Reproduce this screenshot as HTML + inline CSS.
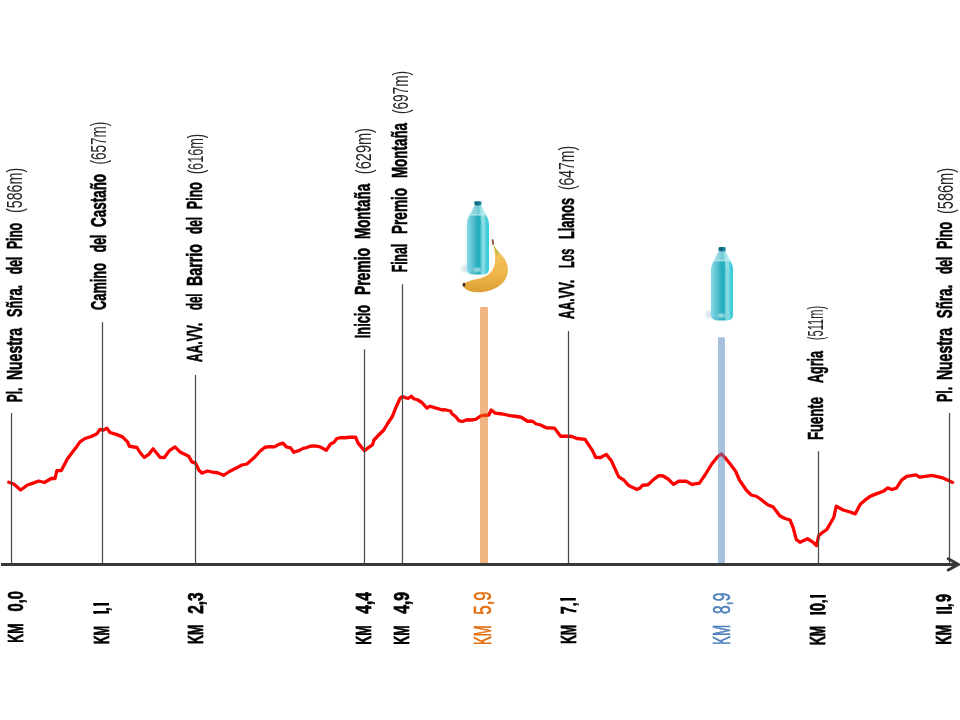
<!DOCTYPE html>
<html><head><meta charset="utf-8"><title>Perfil</title>
<style>
html,body{margin:0;padding:0;background:#fff;width:960px;height:720px;overflow:hidden;}
svg{display:block;will-change:transform;}
text{font-family:"Liberation Sans",sans-serif;white-space:pre;}
.b{font-weight:700;font-size:22px;fill:#000;stroke:#000;stroke-width:0.6px;}
.l{font-weight:400;font-size:21.5px;fill:#262626;}
.k{font-weight:700;font-size:22px;stroke-width:0.7px;}
.ko{font-weight:400;font-size:23px;stroke-width:0.6px;}
.kc{font-weight:700;font-size:17px;stroke-width:0.5px;}
</style></head>
<body>
<svg width="960" height="720" viewBox="0 0 960 720">
<defs>
<linearGradient id="bg" x1="0" x2="1" y1="0" y2="0">
 <stop offset="0" stop-color="#80d8e8"/>
 <stop offset="0.08" stop-color="#7ad4e2"/>
 <stop offset="0.3" stop-color="#55bdcd"/>
 <stop offset="0.5" stop-color="#22adbd"/>
 <stop offset="0.6" stop-color="#2ab3c2"/>
 <stop offset="0.68" stop-color="#7fd7e0"/>
 <stop offset="0.78" stop-color="#8adce4"/>
 <stop offset="0.88" stop-color="#45ccd9"/>
 <stop offset="1" stop-color="#38cddb"/>
</linearGradient>
<linearGradient id="cap" x1="0" x2="1" y1="0" y2="0">
 <stop offset="0" stop-color="#1a7f95"/>
 <stop offset="0.35" stop-color="#0b6479"/>
 <stop offset="1" stop-color="#2395ab"/>
</linearGradient>
<linearGradient id="topg" x1="0" x2="1" y1="0" y2="0">
 <stop offset="0" stop-color="#4fbfd0"/>
 <stop offset="0.35" stop-color="#9adbe4"/>
 <stop offset="0.65" stop-color="#a4e0e8"/>
 <stop offset="1" stop-color="#55c6d6"/>
</linearGradient>
<radialGradient id="shadow" cx="0.5" cy="0.5" r="0.5">
 <stop offset="0" stop-color="#d2dfe5" stop-opacity="1"/>
 <stop offset="0.5" stop-color="#dbe5ea" stop-opacity="0.8"/>
 <stop offset="1" stop-color="#ffffff" stop-opacity="0"/>
</radialGradient>
<radialGradient id="bottomGlow" cx="0.5" cy="0.5" r="0.5">
 <stop offset="0" stop-color="#a8e0e8" stop-opacity="1"/>
 <stop offset="0.5" stop-color="#98d8e2" stop-opacity="0.7"/>
 <stop offset="1" stop-color="#98d8e2" stop-opacity="0"/>
</radialGradient>
<linearGradient id="ban" x1="0" x2="0" y1="0" y2="1">
 <stop offset="0" stop-color="#f5c55e"/>
 <stop offset="0.6" stop-color="#efb64c"/>
 <stop offset="1" stop-color="#dba035"/>
</linearGradient>
<linearGradient id="stemg" x1="0" x2="0" y1="0" y2="1">
 <stop offset="0" stop-color="#9cb83a"/>
 <stop offset="1" stop-color="#e9c050"/>
</linearGradient>
<clipPath id="bclip"><path d="M-3.2,4 L3.2,4 L9.6,16.5 Q11.1,19.5 11.1,23.5 L11.1,67.3 Q11.1,73.4 5,73.4 L-5,73.4 Q-11.1,73.4 -11.1,67.3 L-11.1,23.5 Q-11.1,19.5 -9.6,16.5 Z"/></clipPath>
<g id="bottle">
 <ellipse cx="-11.5" cy="67.3" rx="8" ry="6.5" fill="url(#shadow)"/>
 <g clip-path="url(#bclip)">
  <rect x="-11.2" y="3" width="22.4" height="71" fill="url(#bg)"/>
  <rect x="-11.2" y="3" width="22.4" height="10.7" fill="#ffffff" opacity="0.38"/>
  <rect x="-11.2" y="13.1" width="22.4" height="1.2" fill="#c2ecf0" opacity="0.9"/>
  <path d="M2.0,5 L5.0,22" stroke="#a6e4ea" stroke-width="1.2" opacity="0.8"/>
  <ellipse cx="-0.7" cy="68.6" rx="6" ry="3.4" fill="url(#bottomGlow)"/>
 </g>
 <rect x="-3.6" y="0" width="7.2" height="4.2" rx="1.3" fill="url(#cap)"/>
</g>
</defs>
<polyline points="8.75,482.25 13.75,484.00 20.60,490.00 27.50,485.00 33.10,483.10 38.75,481.00 44.40,482.50 51.25,478.50 55.00,478.50 56.90,470.60 61.25,470.60 67.50,458.75 75.60,448.10 80.00,441.90 85.00,438.50 91.25,436.50 96.90,433.75 100.00,429.40 103.50,430.20 106.90,428.10 110.00,432.50 116.25,434.40 122.50,436.90 127.50,441.90 129.40,446.25 136.90,447.50 140.00,452.50 144.40,457.50 148.75,454.40 153.10,448.75 160.00,457.25 164.40,457.50 169.40,450.60 175.00,446.90 180.00,451.90 188.75,456.25 191.90,461.90 195.60,463.10 198.75,470.00 201.90,473.10 207.50,471.00 212.50,472.10 217.50,472.75 223.75,475.25 229.40,471.50 236.25,468.10 241.90,465.00 246.90,464.00 253.75,458.10 260.00,451.25 265.00,447.25 270.00,446.60 274.40,446.90 278.75,444.40 283.10,443.10 286.25,446.90 290.60,447.90 293.75,452.25 298.75,450.60 303.10,448.40 306.25,447.75 310.00,446.25 315.00,445.90 320.00,446.90 326.25,450.25 330.60,444.00 333.75,442.50 336.90,438.50 340.00,437.75 345.00,437.75 350.00,437.25 355.60,437.25 358.10,443.10 361.25,446.90 364.40,450.60 368.10,447.90 372.50,444.75 374.00,440.00 378.75,435.00 383.75,430.00 387.50,423.75 392.50,416.25 395.60,408.10 400.00,398.50 402.25,396.50 405.00,397.50 408.10,398.50 411.25,396.25 413.75,398.75 417.50,399.75 421.90,402.50 426.90,408.10 430.00,406.25 436.25,408.10 442.50,410.00 445.00,409.75 450.60,411.00 451.90,413.75 455.60,416.50 458.75,420.60 462.50,421.50 466.90,419.75 471.25,420.00 475.60,419.40 480.60,416.00 483.75,415.25 488.75,415.00 491.25,410.00 495.00,413.10 502.50,414.00 510.00,415.60 515.00,416.25 521.25,417.25 527.50,421.25 532.50,421.25 536.25,424.00 540.00,424.75 546.25,427.75 554.40,428.10 555.00,428.75 560.60,436.25 568.75,436.25 571.90,436.50 576.90,438.50 585.00,439.40 592.50,450.60 595.60,457.25 600.60,457.50 606.25,454.40 611.25,460.60 618.75,476.90 623.75,480.00 628.75,485.60 636.90,489.40 640.00,488.10 642.50,485.25 648.10,484.75 653.75,479.40 658.75,475.60 663.10,476.00 668.10,479.00 673.50,484.40 678.75,481.25 686.25,481.25 691.90,484.40 699.40,483.10 705.00,475.00 711.90,463.75 718.10,456.25 721.25,454.00 724.40,456.90 730.00,463.75 735.60,471.25 739.40,480.00 746.25,490.00 751.25,495.00 756.25,496.25 760.00,498.75 768.10,505.00 773.10,506.90 780.00,516.00 785.00,518.50 790.00,520.00 793.10,527.50 796.25,539.40 800.00,542.25 807.50,538.75 812.50,541.90 816.50,545.60 818.75,535.60 822.50,532.50 826.90,529.40 833.75,517.50 836.25,506.25 843.10,510.00 850.00,512.00 855.20,513.90 860.30,504.20 864.90,500.20 870.60,496.10 876.90,493.60 883.20,491.30 887.80,487.90 891.80,489.50 896.40,488.10 901.60,480.10 906.70,476.40 915.90,474.90 919.90,477.20 931.90,475.30 941.70,477.60 947.40,480.10 952.60,482.40" fill="none" stroke="#ff0000" stroke-width="3.3" stroke-linejoin="round" stroke-linecap="round"/>
<line x1="11.5" y1="413" x2="11.5" y2="564" stroke="#4a4a4a" stroke-width="1.25"/>
<line x1="102.5" y1="322.2" x2="102.5" y2="564" stroke="#4a4a4a" stroke-width="1.25"/>
<line x1="195.5" y1="374.9" x2="195.5" y2="564" stroke="#4a4a4a" stroke-width="1.25"/>
<line x1="364.5" y1="349.4" x2="364.5" y2="564" stroke="#4a4a4a" stroke-width="1.25"/>
<line x1="402.5" y1="284.2" x2="402.5" y2="564" stroke="#4a4a4a" stroke-width="1.25"/>
<line x1="568.5" y1="331" x2="568.5" y2="564" stroke="#4a4a4a" stroke-width="1.25"/>
<line x1="818.5" y1="451.2" x2="818.5" y2="564" stroke="#4a4a4a" stroke-width="1.25"/>
<line x1="949.5" y1="413" x2="949.5" y2="564" stroke="#4a4a4a" stroke-width="1.25"/>
<rect x="480" y="307" width="8" height="257" rx="1.2" fill="#E46C0A" fill-opacity="0.5"/>
<rect x="718" y="337.2" width="7" height="226.8" rx="1.2" fill="#4F81BD" fill-opacity="0.5"/>
<line x1="1" y1="564.4" x2="957" y2="564.4" stroke="#383838" stroke-width="3"/>
<polyline points="948.3,558.8 958.3,564.4 948.3,570.0" fill="none" stroke="#383838" stroke-width="3" stroke-linecap="round" stroke-linejoin="miter"/>
<text id="w0_0" class="b" transform="translate(21.6,402.18) rotate(-90)" textLength="14.49" lengthAdjust="spacingAndGlyphs">Pl.</text>
<text id="w0_1" class="b" transform="translate(21.6,380.05) rotate(-90)" textLength="52.10" lengthAdjust="spacingAndGlyphs">Nuestra</text>
<text id="w0_2" class="b" transform="translate(21.6,317.07) rotate(-90)" textLength="32.18" lengthAdjust="spacingAndGlyphs">Sñra.</text>
<text id="w0_3" class="b" transform="translate(21.6,274.17) rotate(-90)" textLength="17.34" lengthAdjust="spacingAndGlyphs">del</text>
<text id="w0_4" class="b" transform="translate(21.6,249.00) rotate(-90)" textLength="26.12" lengthAdjust="spacingAndGlyphs">Pino</text>
<text id="l0" class="l" transform="translate(22.3,213.00) rotate(-90)" textLength="45.15" lengthAdjust="spacingAndGlyphs">(586m)</text>
<text id="w1_0" class="b" transform="translate(105.5,310.00) rotate(-90)" textLength="47.03" lengthAdjust="spacingAndGlyphs">Camino</text>
<text id="w1_1" class="b" transform="translate(105.5,252.14) rotate(-90)" textLength="17.29" lengthAdjust="spacingAndGlyphs">del</text>
<text id="w1_2" class="b" transform="translate(105.5,227.04) rotate(-90)" textLength="53.13" lengthAdjust="spacingAndGlyphs">Castaño</text>
<text id="l1" class="l" transform="translate(106.2,164.58) rotate(-90)" textLength="42.79" lengthAdjust="spacingAndGlyphs">(657m)</text>
<text id="w2_0" class="b" transform="translate(202.4,362.00) rotate(-90)" textLength="39.00" lengthAdjust="spacingAndGlyphs">AA.VV.</text>
<text id="w2_1" class="b" transform="translate(202.4,310.12) rotate(-90)" textLength="16.56" lengthAdjust="spacingAndGlyphs">del</text>
<text id="w2_2" class="b" transform="translate(202.4,286.01) rotate(-90)" textLength="42.02" lengthAdjust="spacingAndGlyphs">Barrio</text>
<text id="w2_3" class="b" transform="translate(202.4,234.00) rotate(-90)" textLength="17.12" lengthAdjust="spacingAndGlyphs">del</text>
<text id="w2_4" class="b" transform="translate(202.4,209.15) rotate(-90)" textLength="27.11" lengthAdjust="spacingAndGlyphs">Pino</text>
<text id="l2" class="l" transform="translate(203.1,174.11) rotate(-90)" textLength="40.20" lengthAdjust="spacingAndGlyphs">(616m)</text>
<text id="w3_0" class="b" transform="translate(370.3,338.18) rotate(-90)" textLength="33.31" lengthAdjust="spacingAndGlyphs">Inicio</text>
<text id="w3_1" class="b" transform="translate(370.3,295.12) rotate(-90)" textLength="47.21" lengthAdjust="spacingAndGlyphs">Premio</text>
<text id="w3_2" class="b" transform="translate(370.3,238.99) rotate(-90)" textLength="55.10" lengthAdjust="spacingAndGlyphs">Montaña</text>
<text id="l3" class="l" transform="translate(371.0,174.13) rotate(-90)" textLength="46.10" lengthAdjust="spacingAndGlyphs">(629m)</text>
<text id="w4_0" class="b" transform="translate(407.4,272.16) rotate(-90)" textLength="28.26" lengthAdjust="spacingAndGlyphs">Final</text>
<text id="w4_1" class="b" transform="translate(407.4,234.03) rotate(-90)" textLength="46.15" lengthAdjust="spacingAndGlyphs">Premio</text>
<text id="w4_2" class="b" transform="translate(407.4,178.05) rotate(-90)" textLength="55.10" lengthAdjust="spacingAndGlyphs">Montaña</text>
<text id="l4" class="l" transform="translate(408.09999999999997,114.07) rotate(-90)" textLength="43.11" lengthAdjust="spacingAndGlyphs">(697m)</text>
<text id="w5_0" class="b" transform="translate(573.7,319.00) rotate(-90)" textLength="39.00" lengthAdjust="spacingAndGlyphs">AA.VV.</text>
<text id="w5_1" class="b" transform="translate(573.7,268.10) rotate(-90)" textLength="19.31" lengthAdjust="spacingAndGlyphs">Los</text>
<text id="w5_2" class="b" transform="translate(573.7,239.11) rotate(-90)" textLength="41.22" lengthAdjust="spacingAndGlyphs">Llanos</text>
<text id="l5" class="l" transform="translate(574.4000000000001,190.10) rotate(-90)" textLength="44.25" lengthAdjust="spacingAndGlyphs">(647m)</text>
<text id="w6_0" class="b" transform="translate(822.7,440.02) rotate(-90)" textLength="43.06" lengthAdjust="spacingAndGlyphs">Fuente</text>
<text id="w6_1" class="b" transform="translate(822.7,383.12) rotate(-90)" textLength="32.25" lengthAdjust="spacingAndGlyphs">Agria</text>
<text id="l6" class="l" transform="translate(823.4000000000001,340.16) rotate(-90)" textLength="34.24" lengthAdjust="spacingAndGlyphs">(511m)</text>
<text id="w7_0" class="b" transform="translate(952.3,402.05) rotate(-90)" textLength="15.26" lengthAdjust="spacingAndGlyphs">Pl.</text>
<text id="w7_1" class="b" transform="translate(952.3,380.07) rotate(-90)" textLength="52.19" lengthAdjust="spacingAndGlyphs">Nuestra</text>
<text id="w7_2" class="b" transform="translate(952.3,318.13) rotate(-90)" textLength="33.27" lengthAdjust="spacingAndGlyphs">Sñra.</text>
<text id="w7_3" class="b" transform="translate(952.3,274.07) rotate(-90)" textLength="17.26" lengthAdjust="spacingAndGlyphs">del</text>
<text id="w7_4" class="b" transform="translate(952.3,249.06) rotate(-90)" textLength="27.15" lengthAdjust="spacingAndGlyphs">Pino</text>
<text id="l7" class="l" transform="translate(953.0,214.06) rotate(-90)" textLength="46.17" lengthAdjust="spacingAndGlyphs">(586m)</text>
<text id="k1a" class="k" transform="translate(23.3,642.77) rotate(-90)" textLength="19.19" lengthAdjust="spacingAndGlyphs" fill="#000" stroke="#000">KM</text>
<text id="k1b" class="k" transform="translate(23.3,611.39) rotate(-90)" textLength="20.38" lengthAdjust="spacingAndGlyphs" fill="#000" stroke="#000">0,0</text>
<text id="k2a" class="k" transform="translate(108.7,643.94) rotate(-90)" textLength="18.02" lengthAdjust="spacingAndGlyphs" fill="#000" stroke="#000">KM</text>
<path d="M93.20,611.00 L109.00,611.00 L109.00,613.50 L96.80,613.50 L95.80,614.00 L93.60,613.60 L93.20,613.20 Z" fill="#000"/>
<text id="k2b2" class="kc" transform="translate(108.7,611.15) rotate(-90)" textLength="4.00" lengthAdjust="spacingAndGlyphs" fill="#000" stroke="#000">,</text>
<path d="M93.20,603.00 L109.00,603.00 L109.00,605.50 L96.80,605.50 L95.80,606.00 L93.60,605.60 L93.20,605.20 Z" fill="#000"/>
<text id="k3a" class="k" transform="translate(202.8,644.00) rotate(-90)" textLength="19.43" lengthAdjust="spacingAndGlyphs" fill="#000" stroke="#000">KM</text>
<text id="k3b" class="k" transform="translate(202.8,613.83) rotate(-90)" textLength="21.40" lengthAdjust="spacingAndGlyphs" fill="#000" stroke="#000">2,3</text>
<text id="k4a" class="k" transform="translate(371.3,644.83) rotate(-90)" textLength="19.48" lengthAdjust="spacingAndGlyphs" fill="#000" stroke="#000">KM</text>
<text id="k4b" class="k" transform="translate(371.3,613.67) rotate(-90)" textLength="21.68" lengthAdjust="spacingAndGlyphs" fill="#000" stroke="#000">4,4</text>
<text id="k5a" class="k" transform="translate(409.3,644.83) rotate(-90)" textLength="19.48" lengthAdjust="spacingAndGlyphs" fill="#000" stroke="#000">KM</text>
<text id="k5b" class="k" transform="translate(409.3,613.74) rotate(-90)" textLength="21.85" lengthAdjust="spacingAndGlyphs" fill="#000" stroke="#000">4,9</text>
<text id="k6a" class="ko" transform="translate(491.3,644.93) rotate(-90)" textLength="19.76" lengthAdjust="spacingAndGlyphs" fill="#E46C0A" stroke="#E46C0A">KM</text>
<text id="k6b" class="ko" transform="translate(491.3,614.78) rotate(-90)" textLength="23.54" lengthAdjust="spacingAndGlyphs" fill="#E46C0A" stroke="#E46C0A">5,9</text>
<text id="k7a" class="k" transform="translate(575.8,643.78) rotate(-90)" textLength="18.88" lengthAdjust="spacingAndGlyphs" fill="#000" stroke="#000">KM</text>
<text id="k7b1" class="k" transform="translate(575.8,613.97) rotate(-90)" textLength="7.57" lengthAdjust="spacingAndGlyphs" fill="#000" stroke="#000">7</text>
<text id="k7b2" class="kc" transform="translate(575.8,606.30) rotate(-90)" textLength="4.00" lengthAdjust="spacingAndGlyphs" fill="#000" stroke="#000">,</text>
<path d="M560.20,598.10 L575.80,598.10 L575.80,600.60 L563.80,600.60 L562.80,600.90 L560.60,600.50 L560.20,600.30 Z" fill="#000"/>
<text id="k8a" class="ko" transform="translate(729.6,644.86) rotate(-90)" textLength="20.00" lengthAdjust="spacingAndGlyphs" fill="#4F81BD" stroke="#4F81BD">KM</text>
<text id="k8b" class="ko" transform="translate(729.6,614.05) rotate(-90)" textLength="21.55" lengthAdjust="spacingAndGlyphs" fill="#4F81BD" stroke="#4F81BD">8,9</text>
<text id="k9a" class="k" transform="translate(825.3,645.00) rotate(-90)" textLength="19.09" lengthAdjust="spacingAndGlyphs" fill="#000" stroke="#000">KM</text>
<path d="M810.00,612.10 L825.80,612.10 L825.80,614.60 L813.60,614.60 L812.60,614.80 L810.40,614.40 L810.00,614.30 Z" fill="#000"/>
<text id="k9b2" class="k" transform="translate(825.3,611.02) rotate(-90)" textLength="8.02" lengthAdjust="spacingAndGlyphs" fill="#000" stroke="#000">0</text>
<text id="k9b3" class="kc" transform="translate(825.3,603.25) rotate(-90)" textLength="4.00" lengthAdjust="spacingAndGlyphs" fill="#000" stroke="#000">,</text>
<path d="M810.00,595.00 L825.80,595.00 L825.80,597.50 L813.60,597.50 L812.60,597.90 L810.40,597.50 L810.00,597.20 Z" fill="#000"/>
<text id="k10a" class="k" transform="translate(951.3,644.76) rotate(-90)" textLength="20.10" lengthAdjust="spacingAndGlyphs" fill="#000" stroke="#000">KM</text>
<path d="M936.25,611.25 L951.90,611.25 L951.90,613.75 L939.85,613.75 L938.85,613.90 L936.65,613.50 L936.25,613.45 Z" fill="#000"/>
<path d="M936.25,607.10 L951.90,607.10 L951.90,609.60 L939.85,609.60 L938.85,609.80 L936.65,609.40 L936.25,609.30 Z" fill="#000"/>
<text id="k10b3" class="kc" transform="translate(951.3,607.30) rotate(-90)" textLength="4.00" lengthAdjust="spacingAndGlyphs" fill="#000" stroke="#000">,</text>
<text id="k10b4" class="k" transform="translate(951.3,601.98) rotate(-90)" textLength="8.00" lengthAdjust="spacingAndGlyphs" fill="#000" stroke="#000">9</text>
<use href="#bottle" x="477.9" y="201.2"/>

<g>
 <path d="M493.2,244.2 C495.5,248 497.5,251 500.5,254 C505,258.5 508.3,264 507.8,271 C507.3,277 505,281 501,284.5 C495,289.5 486,292.8 476,292.3 C469.5,292 465.5,289.5 463.2,286.5 L463.8,283.2 C468.5,280.8 474.5,279.6 480.5,278.2 C488,276.2 493,271.5 494.6,264.5 C495.8,258.5 494.8,251.5 493.2,244.2 Z" fill="url(#ban)"/>
 <path d="M493.2,244.2 C495.5,248 497.5,251 500.5,254 L496.3,256.5 C495.8,252 494.8,248 493.2,244.2 Z" fill="url(#stemg)"/>
 <path d="M492.6,240.2 L493.2,243.8" stroke="#8a5a40" stroke-width="2" fill="none" stroke-linecap="round"/>
 <ellipse cx="464" cy="284.8" rx="1.4" ry="2.1" fill="#4a2a1a"/>
</g>

<use href="#bottle" x="722.1" y="247"/>
</svg>
</body></html>
